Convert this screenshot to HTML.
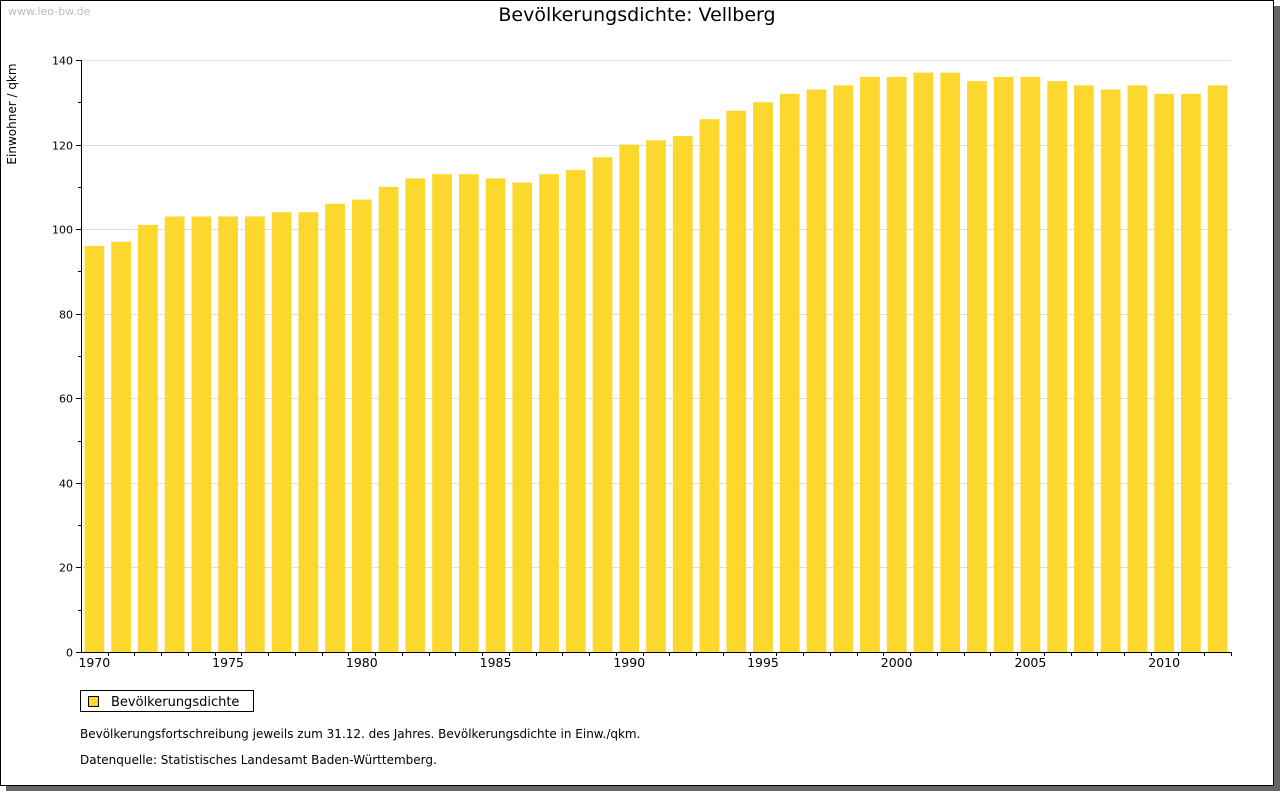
<!DOCTYPE html>
<html><head><meta charset="utf-8"><style>
html,body{margin:0;padding:0;background:#fff;}
body{width:1280px;height:791px;position:relative;overflow:hidden;font-family:"DejaVu Sans","Liberation Sans",sans-serif;}
</style></head><body>
<svg id="chart" width="1280" height="791" xmlns="http://www.w3.org/2000/svg">
<rect x="6" y="6" width="1274" height="785" fill="#666"/>
<rect x="0.5" y="0.5" width="1273" height="785" fill="#fff" stroke="#000"/>
<text x="8" y="15" font-size="11" fill="#bbb">www.leo-bw.de</text>
<text x="637" y="21" font-size="19" text-anchor="middle" fill="#000">Bevölkerungsdichte: Vellberg</text>
<text transform="translate(16,114) rotate(-90)" font-size="12" text-anchor="middle">Einwohner / qkm</text>
<g id="grid"></g><g id="bars"></g><g id="axes"></g>
<rect x="80.5" y="690.5" width="173" height="21" fill="#fff" stroke="#000"/>
<rect x="88.5" y="696.5" width="10" height="10" fill="#fcd72e" stroke="#000"/>
<text x="111" y="706" font-size="13">Bevölkerungsdichte</text>
<text x="80" y="738" font-size="12">Bevölkerungsfortschreibung jeweils zum 31.12. des Jahres. Bevölkerungsdichte in Einw./qkm.</text>
<text x="80" y="764" font-size="12">Datenquelle: Statistisches Landesamt Baden-Württemberg.</text>
</svg>
<script>
const years=[1970,1971,1972,1973,1974,1975,1976,1977,1978,1979,1980,1981,1982,1983,1984,1985,1986,1987,1988,1989,1990,1991,1992,1993,1994,1995,1996,1997,1998,1999,2000,2001,2002,2003,2004,2005,2006,2007,2008,2009,2010,2011,2012];
const values=[96,97,101,103,103,103,103,104,104,106,107,110,112,113,113,112,111,113,114,117,120,121,122,126,128,130,132,133,134,136,136,137,137,135,136,136,135,134,133,134,132,132,134];
const yTicks=[0,20,40,60,80,100,120,140];
const NS="http://www.w3.org/2000/svg";
const X0=81,X1=1231,Y0=652,Y1=60,YMAX=140;
const step=(X1-X0)/years.length;
const ys=v=>Y0-(Y0-Y1)*v/YMAX;
const xs=i=>X0+step*i;
function mk(tag,attrs,parent){const e=document.createElementNS(NS,tag);for(const k in attrs)e.setAttribute(k,attrs[k]);document.getElementById(parent).appendChild(e);return e;}
yTicks.forEach(t=>{
 const y=Math.round(ys(t))+0.5;
 if(t>0){const g=mk('line',{x1:X0,x2:X1,y1:y,y2:y,stroke:'#ddd'},'grid');
 
 }
 const tk=mk('line',{x1:X0-5,x2:X0,y1:y,y2:y,stroke:'#000'},'axes');
 
 
 const tl=mk('text',{x:X0-8,y:y+4,'font-size':11,'text-anchor':'end'},'axes');tl.textContent=t;
 
 
});
for(let v=10;v<YMAX;v+=20){const y=Math.round(ys(v))+0.5;const m=mk('line',{x1:X0-3,x2:X0,y1:y,y2:y,stroke:'#000'},'axes');
 
 }
values.forEach((v,i)=>{
 const b=mk('rect',{x:xs(i)+3.5,y:ys(v),width:step-7,height:Y0-ys(v),fill:'#fcd72e'},'bars');
 
 
 const tx=Math.round(xs(i+1))+0.5;
 const tk=mk('line',{x1:tx,x2:tx,y1:Y0,y2:Y0+4,stroke:'#000'},'axes');
 
 
 if(years[i]%5===0){const l=mk('text',{x:xs(i)+step/2,y:Y0+15,'font-size':12.5,'text-anchor':'middle'},'axes');l.textContent=years[i];
 
 }
});
const ya=mk('line',{x1:X0+0.5,x2:X0+0.5,y1:Y1,y2:Y0+1,stroke:'#000'},'axes');


const xa=mk('line',{x1:X0,x2:X1,y1:Y0+0.5,y2:Y0+0.5,stroke:'#000'},'axes');


</script>
</body></html>
